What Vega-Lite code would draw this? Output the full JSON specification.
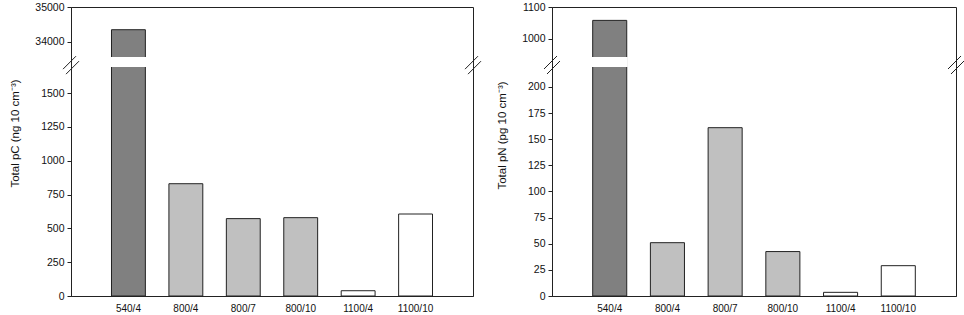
{
  "$schema": "https://vega.github.io/schema/vega-lite/v6.json",
  "background": "white",
  "padding": {"left": 9, "top": 1, "right": 0, "bottom": 0},
  "spacing": 14,
  "config": {
    "font": "Liberation Sans",
    "view": {"stroke": "#222", "strokeWidth": 1},
    "axis": {
      "domainColor": "#222", "tickColor": "#222", "tickSize": 4,
      "labelColor": "#111", "labelFontSize": 10.5, "labelFont": "Liberation Sans",
      "titleFont": "Liberation Sans", "titleFontSize": 11.5, "titleFontWeight": "normal", "titleColor": "#111",
      "grid": false, "labelOverlap": false
    }
  },
  "datasets": {
    "bars": [
      {"treatment": "540/4", "group": "540", "pC": 34350, "pN": 1058},
      {"treatment": "800/4", "group": "800", "pC": 830, "pN": 51},
      {"treatment": "800/7", "group": "800", "pC": 572, "pN": 161},
      {"treatment": "800/10", "group": "800", "pC": 579, "pN": 42.5},
      {"treatment": "1100/4", "group": "1100", "pC": 39, "pN": 3.5},
      {"treatment": "1100/10", "group": "1100", "pC": 606, "pN": 29}
    ],
    "edges": [{"edge": 0}, {"edge": 1}]
  },
  "hconcat": [
    {
      "width": 402, "height": 289,
      "resolve": {"scale": {"x": "independent"}},
      "layer": [
        {
          "data": {"name": "bars"},
          "layer": [
            {
              "mark": {"type": "bar", "stroke": "#222", "strokeWidth": 1},
              "encoding": {
                "x": {"field": "treatment", "type": "nominal", "sort": null,
                  "scale": {"paddingInner": 0.41, "paddingOuter": 0.705},
                  "axis": {"title": null, "labelAngle": 0, "ticks": false, "labelPadding": 7, "labelFontSize": 10}},
                "y": {"field": "pC", "type": "quantitative",
                  "scale": {"domain": [0, 1700, 33540, 35000], "range": [289, 59, 51, 0], "nice": false, "zero": false},
                  "axis": {"title": "Total pC (ng 10 cm⁻³)", "values": [0, 250, 500, 750, 1000, 1250, 1500, 34000, 35000], "tickCount": 30, "format": "d", "labelPadding": 3, "titlePadding": 14, "titleY": 126}},
                "fill": {"field": "group", "type": "nominal",
                  "scale": {"domain": ["540", "800", "1100"], "range": ["#808080", "#c0c0c0", "#ffffff"]}, "legend": null}
              }
            },
            {
              "transform": [{"filter": "datum.pC > 1700"}],
              "mark": {"type": "bar", "fill": "white", "stroke": "white", "strokeWidth": 2},
              "encoding": {
                "x": {"field": "treatment", "type": "nominal", "sort": null},
                "y": {"datum": 1700},
                "y2": {"datum": 33540}
              }
            }
          ]
        },
        {
          "data": {"name": "edges"},
          "layer": [
            {
              "mark": {"type": "rule", "stroke": "#222", "strokeWidth": 1, "xOffset": -8, "x2Offset": 5, "yOffset": 7, "y2Offset": -6},
              "encoding": {
                "x": {"field": "edge", "type": "quantitative", "scale": {"domain": [0, 1], "nice": false, "zero": false}, "axis": null},
                "x2": {"field": "edge"},
                "y": {"datum": 17000},
                "y2": {"datum": 17000}
              }
            },
            {
              "mark": {"type": "rule", "stroke": "#222", "strokeWidth": 1, "xOffset": -5, "x2Offset": 8, "yOffset": 12, "y2Offset": -1},
              "encoding": {
                "x": {"field": "edge", "type": "quantitative", "scale": {"domain": [0, 1], "nice": false, "zero": false}, "axis": null},
                "x2": {"field": "edge"},
                "y": {"datum": 17000},
                "y2": {"datum": 17000}
              }
            }
          ]
        }
      ]
    },
    {
      "width": 404, "height": 289,
      "resolve": {"scale": {"x": "independent"}},
      "layer": [
        {
          "data": {"name": "bars"},
          "layer": [
            {
              "mark": {"type": "bar", "stroke": "#222", "strokeWidth": 1},
              "encoding": {
                "x": {"field": "treatment", "type": "nominal", "sort": null,
                  "scale": {"paddingInner": 0.41, "paddingOuter": 0.705},
                  "axis": {"title": null, "labelAngle": 0, "ticks": false, "labelPadding": 7, "labelFontSize": 10}},
                "y": {"field": "pN", "type": "quantitative",
                  "scale": {"domain": [0, 220, 940, 1100], "range": [289, 59, 51, 0], "nice": false, "zero": false},
                  "axis": {"title": "Total pN (pg 10 cm⁻³)", "values": [0, 25, 50, 75, 100, 125, 150, 175, 200, 1000, 1100], "tickCount": 30, "format": "d", "labelPadding": 3, "titlePadding": 14, "titleY": 128}},
                "fill": {"field": "group", "type": "nominal",
                  "scale": {"domain": ["540", "800", "1100"], "range": ["#808080", "#c0c0c0", "#ffffff"]}, "legend": null}
              }
            },
            {
              "transform": [{"filter": "datum.pN > 220"}],
              "mark": {"type": "bar", "fill": "white", "stroke": "white", "strokeWidth": 2},
              "encoding": {
                "x": {"field": "treatment", "type": "nominal", "sort": null},
                "y": {"datum": 220},
                "y2": {"datum": 940}
              }
            }
          ]
        },
        {
          "data": {"name": "edges"},
          "layer": [
            {
              "mark": {"type": "rule", "stroke": "#222", "strokeWidth": 1, "xOffset": -8, "x2Offset": 5, "yOffset": 7, "y2Offset": -6},
              "encoding": {
                "x": {"field": "edge", "type": "quantitative", "scale": {"domain": [0, 1], "nice": false, "zero": false}, "axis": null},
                "x2": {"field": "edge"},
                "y": {"datum": 580},
                "y2": {"datum": 580}
              }
            },
            {
              "mark": {"type": "rule", "stroke": "#222", "strokeWidth": 1, "xOffset": -5, "x2Offset": 8, "yOffset": 12, "y2Offset": -1},
              "encoding": {
                "x": {"field": "edge", "type": "quantitative", "scale": {"domain": [0, 1], "nice": false, "zero": false}, "axis": null},
                "x2": {"field": "edge"},
                "y": {"datum": 580},
                "y2": {"datum": 580}
              }
            }
          ]
        }
      ]
    }
  ]
}
